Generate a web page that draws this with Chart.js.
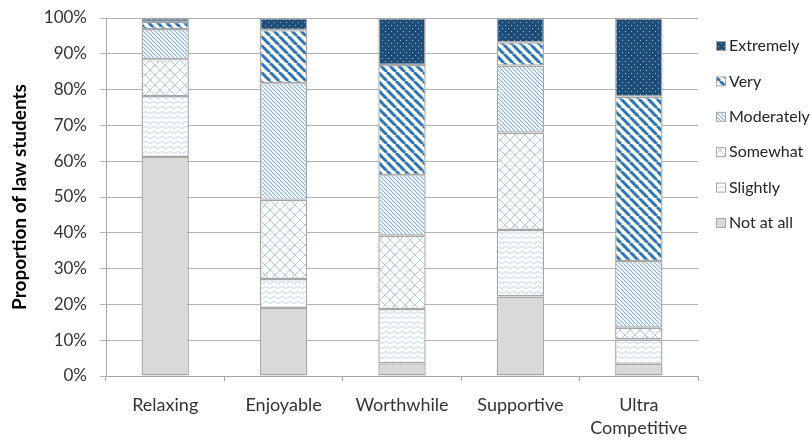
<!DOCTYPE html>
<html><head><meta charset="utf-8">
<script src="https://cdn.jsdelivr.net/npm/chart.js@4/dist/chart.umd.min.js"></script>
<style>html,body{margin:0;padding:0;background:#fff}#wrap{width:811px;height:442px}</style>
</head><body><div id="wrap"><canvas id="c" width="811" height="442"></canvas></div>
<script>
const categories = ['Relaxing', 'Enjoyable', 'Worthwhile', 'Supportive', ['Ultra', 'Competitive']];
const seriesNames = ['Not at all', 'Slightly', 'Somewhat', 'Moderately', 'Very', 'Extremely'];
const notAtAll   = [61.2, 19.0,  3.5, 22.2,  3.4];
const slightly   = [17.0,  8.1, 15.2, 18.6,  6.8];
const somewhat   = [10.3, 22.1, 20.5, 27.2,  3.3];
const moderately = [ 8.4, 32.6, 16.9, 18.7, 18.6];
const very       = [ 2.0, 14.8, 30.8,  6.5, 45.9];
const extremely  = [ 1.1,  3.4, 13.1,  6.8, 22.0];
const yTicks = [0,10,20,30,40,50,60,70,80,90,100];

function pat(w, h, draw) {
  const c = document.createElement('canvas'); c.width = w; c.height = h;
  const x = c.getContext('2d'); draw(x, w, h); return x.createPattern(c, 'repeat');
}
function diag(x, w, col, lw) {
  x.strokeStyle = col; x.lineWidth = lw; x.beginPath();
  for (const k of [-w, 0, w]) { x.moveTo(k, 0); x.lineTo(k + w, w); }
  x.stroke();
}
const fills = [
  '#d9d9d9',
  pat(8, 5, (x, w, h) => { x.fillStyle = '#fff'; x.fillRect(0,0,w,h);
    x.strokeStyle = '#c3d8ef'; x.lineWidth = 1; x.beginPath();
    x.moveTo(0, 2.5); x.lineTo(2, 1.5); x.lineTo(4, 2.5); x.lineTo(6, 3.5); x.lineTo(8, 2.5); x.stroke(); }),
  pat(10, 10, (x, w, h) => { x.fillStyle = '#fff'; x.fillRect(0,0,w,h);
    x.strokeStyle = '#b5cfec'; x.lineWidth = 1; x.beginPath();
    x.moveTo(0,0); x.lineTo(10,10); x.moveTo(10,0); x.lineTo(0,10); x.stroke(); }),
  pat(4, 4, (x, w) => { x.fillStyle = '#fff'; x.fillRect(0,0,w,w); diag(x, w, '#8db4e2', 1.2); }),
  pat(9, 9, (x, w) => { x.fillStyle = '#fff'; x.fillRect(0,0,w,w); diag(x, w, '#2e75b6', 3); }),
  pat(6, 6, (x, w) => { x.fillStyle = '#1f4e79'; x.fillRect(0,0,w,w);
    x.fillStyle = '#9ab7d6'; x.fillRect(1,1,1,1); x.fillRect(4,4,1,1); })
];
const values = [notAtAll, slightly, somewhat, moderately, very, extremely];
const datasets = seriesNames.map((n, i) => ({
  label: n, data: values[i], backgroundColor: fills[i],
  borderColor: '#a6a6a6', borderWidth: 1.4, borderSkipped: false,
  barPercentage: 0.4, categoryPercentage: 1
}));

const FONT = 'Lato';
const legendPlugin = {
  id: 'customLegend',
  afterDraw(chart) {
    const ctx = chart.ctx; ctx.save();
    const ds = chart.data.datasets;
    ctx.font = '16px ' + FONT; ctx.textBaseline = 'middle'; ctx.textAlign = 'left';
    for (let j = 0; j < ds.length; j++) {
      const d = ds[ds.length - 1 - j];
      const y = 46 + j * 35.4;
      ctx.fillStyle = d.backgroundColor; ctx.fillRect(717, y - 4, 8, 8);
      ctx.strokeStyle = '#a6a6a6'; ctx.lineWidth = 1; ctx.strokeRect(716.5, y - 4.5, 9, 9);
      ctx.fillStyle = '#262626'; ctx.fillText(d.label, 729, y);
    }
    ctx.restore();
  }
};

new Chart(document.getElementById('c'), {
  type: 'bar',
  data: { labels: categories, datasets },
  options: {
    responsive: false, animation: false,
    layout: { padding: { left: 8, top: 18, right: 113, bottom: 0 } },
    plugins: { legend: { display: false }, tooltip: { enabled: false } },
    scales: {
      x: {
        stacked: true, offset: true,
        grid: { display: true, drawOnChartArea: false, drawTicks: true, tickLength: 5, offset: true, color: '#a6a6a6' },
        border: { color: '#a6a6a6', width: 1 },
        ticks: { color: '#333', font: { family: FONT, size: 18, lineHeight: 1.3 }, padding: 12, maxRotation: 0, autoSkip: false },
        afterFit(s) { s.height = 66; s.paddingLeft = 0; s.paddingRight = 0; }
      },
      y: {
        stacked: true, min: 0, max: 100,
        afterBuildTicks(s) { s.ticks = yTicks.map(v => ({ value: v })); },
        grid: { color: '#b3b3b3', tickLength: 6 },
        border: { color: '#a6a6a6', width: 1 },
        ticks: { color: '#333', font: { family: FONT, size: 17 }, padding: 13, callback: v => v + '%' },
        title: { display: true, text: 'Proportion of law students', color: '#000', font: { family: FONT, size: 19, weight: 'bold' }, padding: { top: 0, bottom: 4 } },
        afterFit(s) { s.width = 98; s.paddingTop = 0; s.paddingBottom = 0; }
      }
    }
  },
  plugins: [legendPlugin]
});
</script></body></html>
